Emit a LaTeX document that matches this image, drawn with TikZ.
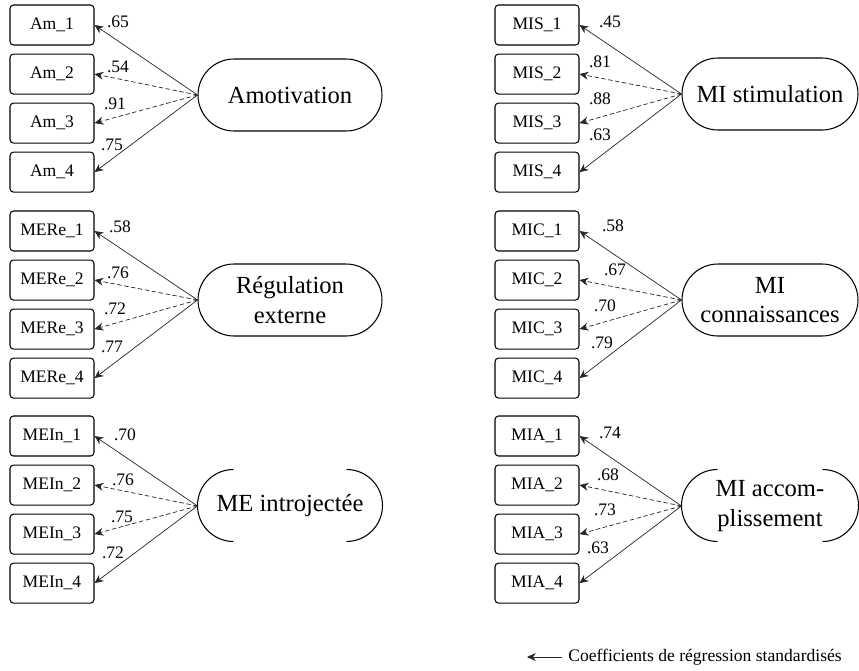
\documentclass[tikz,border=0pt]{standalone}
\usepackage{fontspec}
\setmainfont{Liberation Serif}
\usetikzlibrary{positioning,arrows.meta}
\tikzset{item/.style={draw,rounded corners=2pt,line width=0.6pt,inner sep=0pt,
        minimum width=1.68cm,minimum height=0.8cm,font=\fontsize{10}{12}\selectfont},
        latent/.style={draw,rounded corners=0.72cm,line width=0.6pt,inner sep=0pt,
        minimum width=3.68cm,minimum height=1.44cm,align=center,
        font=\fontsize{14}{17}\selectfont},
        coef/.style={inner sep=0pt,font=\fontsize{10}{12}\selectfont},
        load/.style={-{Stealth[length=5pt,width=4.5pt]},line width=0.4pt,draw=black!85},
        loadd/.style={load,dash pattern=on 2.5pt off 1.5pt}}

\begin{document}
\begin{tikzpicture}[x=0.02cm,y=0.02cm,node distance=0.16cm]
\useasboundingbox (0,0) rectangle (859,-670);
% Amotivation
\node[item] (am1) at (52,-25) {Am\_1};
\node[item,below=of am1] (am2) {Am\_2};
\node[item,below=of am2] (am3) {Am\_3};
\node[item,below=of am3] (am4) {Am\_4};
\node[latent] (amo) at (290,-95) {Amotivation};
\draw[load] (amo.west) -- (am1.east);
\draw[loadd] (amo.west) -- (am2.east);
\draw[loadd] (amo.west) -- (am3.east);
\draw[load] (amo.west) -- (am4.east);
\node[coef] (c11) at (118,-22) {.65};
\node[coef] (c12) at (118,-67) {.54};
\node[coef] (c13) at (115,-104) {.91};
\node[coef] (c14) at (112,-145) {.75};
% Regulation externe
\node[item] (mere1) at (52,-231) {MERe\_1};
\node[item,below=of mere1] (mere2) {MERe\_2};
\node[item,below=of mere2] (mere3) {MERe\_3};
\node[item,below=of mere3] (mere4) {MERe\_4};
\node[latent] (regext) at (290,-300) {Régulation\\externe};
\draw[load] (regext.west) -- (mere1.east);
\draw[loadd] (regext.west) -- (mere2.east);
\draw[loadd] (regext.west) -- (mere3.east);
\draw[load] (regext.west) -- (mere4.east);
\node[coef] (c21) at (120,-227) {.58};
\node[coef] (c22) at (118,-273) {.76};
\node[coef] (c23) at (115,-309) {.72};
\node[coef] (c24) at (112,-347) {.77};
% ME introjectee
\node[item] (mein1) at (52,-436) {MEIn\_1};
\node[item,below=of mein1] (mein2) {MEIn\_2};
\node[item,below=of mein2] (mein3) {MEIn\_3};
\node[item,below=of mein3] (mein4) {MEIn\_4};
\node[latent,draw=none] (intro) at (290,-506) {ME introjectée};
\draw[line width=0.6pt] ([xshift=0.72cm]intro.north west)
    arc[start angle=90,end angle=270,radius=0.72cm];
\draw[line width=0.6pt] ([xshift=-0.72cm]intro.north east)
    arc[start angle=90,end angle=-90,radius=0.72cm];
\draw[load] (intro.west) -- (mein1.east);
\draw[loadd] (intro.west) -- (mein2.east);
\draw[loadd] (intro.west) -- (mein3.east);
\draw[load] (intro.west) -- (mein4.east);
\node[coef] (c31) at (125,-435) {.70};
\node[coef] (c32) at (123,-480) {.76};
\node[coef] (c33) at (122,-517) {.75};
\node[coef] (c34) at (113,-553) {.72};
% MI stimulation
\node[item] (mis1) at (537,-25) {MIS\_1};
\node[item,below=of mis1] (mis2) {MIS\_2};
\node[item,below=of mis2] (mis3) {MIS\_3};
\node[item,below=of mis3] (mis4) {MIS\_4};
\node[latent,minimum width=3.52cm] (stim) at (770,-94) {MI stimulation};
\draw[load] (stim.west) -- (mis1.east);
\draw[loadd] (stim.west) -- (mis2.east);
\draw[loadd] (stim.west) -- (mis3.east);
\draw[load] (stim.west) -- (mis4.east);
\node[coef] (c41) at (610,-22) {.45};
\node[coef] (c42) at (600,-62) {.81};
\node[coef] (c43) at (600,-99) {.88};
\node[coef] (c44) at (600,-135) {.63};
% MI connaissances
\node[item] (mic1) at (537,-231) {MIC\_1};
\node[item,below=of mic1] (mic2) {MIC\_2};
\node[item,below=of mic2] (mic3) {MIC\_3};
\node[item,below=of mic3] (mic4) {MIC\_4};
\node[latent,minimum width=3.52cm] (conn) at (770,-300) {MI\\connaissances};
\draw[load] (conn.west) -- (mic1.east);
\draw[loadd] (conn.west) -- (mic2.east);
\draw[loadd] (conn.west) -- (mic3.east);
\draw[load] (conn.west) -- (mic4.east);
\node[coef] (c51) at (613,-226) {.58};
\node[coef] (c52) at (615,-270) {.67};
\node[coef] (c53) at (605,-306) {.70};
\node[coef] (c54) at (602,-343) {.79};
% MI accomplissement
\node[item] (mia1) at (537,-436) {MIA\_1};
\node[item,below=of mia1] (mia2) {MIA\_2};
\node[item,below=of mia2] (mia3) {MIA\_3};
\node[item,below=of mia3] (mia4) {MIA\_4};
\node[latent,draw=none,minimum width=3.52cm] (accomp) at (770,-506) {MI accom-\\plissement};
\draw[line width=0.6pt] ([xshift=0.72cm]accomp.north west)
    arc[start angle=90,end angle=270,radius=0.72cm];
\draw[line width=0.6pt] ([xshift=-0.72cm]accomp.north east)
    arc[start angle=90,end angle=-90,radius=0.72cm];
\draw[load] (accomp.west) -- (mia1.east);
\draw[loadd] (accomp.west) -- (mia2.east);
\draw[loadd] (accomp.west) -- (mia3.east);
\draw[load] (accomp.west) -- (mia4.east);
\node[coef] (c61) at (610,-433) {.74};
\node[coef] (c62) at (608,-475) {.68};
\node[coef] (c63) at (605,-510) {.73};
\node[coef] (c64) at (598,-548) {.63};
% legende
\node[coef,anchor=west] (legende) at (568,-657) {Coefficients de régression standardisés};
\coordinate (legfin) at (527,-657);
\draw[load,shorten <=0.12cm] (legende.west) -- (legfin);
\end{tikzpicture}
\end{document}
